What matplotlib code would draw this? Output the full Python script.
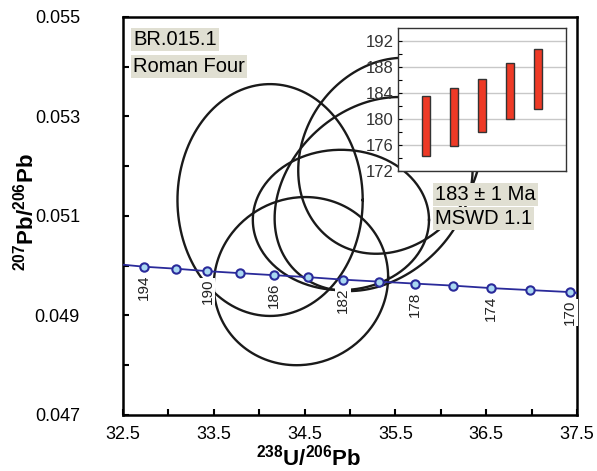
import matplotlib
matplotlib.use("Agg")
import matplotlib.pyplot as plt
import numpy as np

plt.rcParams["font.family"] = ["Liberation Sans", "DejaVu Sans"]
plt.rcParams["mathtext.fontset"] = "custom"
plt.rcParams["mathtext.rm"] = "Liberation Sans"
plt.rcParams["mathtext.bf"] = "Liberation Sans:bold"

# concordia ticks (Ma) and their Tera-Wasserburg coordinates
ages = [194, 192, 190, 188, 186, 184, 182, 180, 178, 176, 174, 172, 170]
u238_pb206 = [32.73, 33.08, 33.43, 33.79, 34.16, 34.54, 34.92, 35.32, 35.72, 36.13, 36.55, 36.98, 37.42]
pb207_pb206 = [0.04998, 0.04994, 0.04989, 0.04985, 0.04981, 0.04977, 0.04972,
               0.04968, 0.04964, 0.04960, 0.04955, 0.04951, 0.04947]
labelled_ages = [194, 190, 186, 182, 178, 174, 170]
curve_ends_x = [32.5, 37.5]
curve_ends_y = [0.05002, 0.04945]

# error ellipses: centre, half axes, correlation
ell_x = [34.12, 34.46, 34.90, 35.26, 35.44]
ell_y = [0.05132, 0.04969, 0.05092, 0.05144, 0.05221]
ell_sx = [1.02, 0.96, 0.97, 1.09, 1.01]
ell_sy = [0.00233, 0.00169, 0.00141, 0.00195, 0.00197]
ell_rho = [0.0, 0.05, 0.0, 0.25, 0.15]

# inset: age bars (Ma)
bar_pos = [1, 2, 3, 4, 5]
bar_low = [174.3, 175.8, 178.0, 180.0, 181.6]
bar_high = [183.5, 184.8, 186.2, 188.6, 190.8]

fig = plt.figure(figsize=(5.97, 4.71), dpi=100)
ax = fig.add_axes([0.206, 0.119, 0.7605, 0.845])

t = np.linspace(0, 2 * np.pi, 300)
for cx, cy, sx, sy, r in zip(ell_x, ell_y, ell_sx, ell_sy, ell_rho):
    ex = cx + sx * np.cos(t)
    ey = cy + sy * (r * np.cos(t) + np.sqrt(1 - r ** 2) * np.sin(t))
    ax.plot(ex, ey, color="#1a1a1a", linewidth=1.7, zorder=2)

line_x = [curve_ends_x[0]] + u238_pb206 + [curve_ends_x[1]]
line_y = [curve_ends_y[0]] + pb207_pb206 + [curve_ends_y[1]]
ax.plot(line_x, line_y, color="#2a2a9a", linewidth=1.3, zorder=3)
ax.plot(u238_pb206, pb207_pb206, "o", markersize=6, markerfacecolor="#a9d8f2",
        markeredgecolor="#2a2a9a", markeredgewidth=1.5, linestyle="none", zorder=4)

for a, x, y in zip(ages, u238_pb206, pb207_pb206):
    if a in labelled_ages:
        ax.annotate(str(a), (x, y), xytext=(0, -5.5), textcoords="offset points",
                    rotation=90, ha="center", va="top", fontsize=11, color="#222222",
                    bbox=dict(facecolor="white", edgecolor="none", pad=0.8), zorder=5)

ax.set_xlim(32.5, 37.5)
ax.set_ylim(0.047, 0.055)
ax.set_xticks([32.5, 33.5, 34.5, 35.5, 36.5, 37.5])
ax.set_xticks([33.0, 34.0, 35.0, 36.0, 37.0], minor=True)
ax.set_yticks([0.047, 0.049, 0.051, 0.053, 0.055])
ax.set_yticks([0.048, 0.050, 0.052, 0.054], minor=True)
ax.set_yticklabels(["0.047", "0.049", "0.051", "0.053", "0.055"])
ax.tick_params(which="both", direction="in", length=4, width=1.5, labelsize=13)
ax.tick_params(axis="y", which="both", pad=31)
ax.tick_params(axis="x", which="both", pad=8)
for s in ax.spines.values():
    s.set_linewidth(1.8)

ax.set_xlabel(r"$\mathbf{^{238}U/^{206}Pb}$", fontsize=16)
ax.xaxis.set_label_coords(0.41, -0.075)
ax.set_ylabel(r"$\mathbf{^{207}Pb/^{206}Pb}$", fontsize=16)
ax.yaxis.set_label_coords(-0.186, 0.51)

box = dict(facecolor="#e0dfd2", edgecolor="none", pad=1.5)
ax.text(0.022, 0.943, "BR.015.1", transform=ax.transAxes, fontsize=14.5, va="center",
        bbox=box, zorder=6)
ax.text(0.022, 0.875, "Roman Four", transform=ax.transAxes, fontsize=14.5, va="center",
        bbox=box, zorder=6)
ax.text(0.688, 0.555, "183 \u00b1 1 Ma", transform=ax.transAxes, fontsize=14.5, va="center",
        bbox=box, zorder=6)
ax.text(0.688, 0.494, "MSWD 1.1", transform=ax.transAxes, fontsize=14.5, va="center",
        bbox=box, zorder=6)

# inset with weighted-mean bars
ins = fig.add_axes([0.6667, 0.6369, 0.2814, 0.3036])
ins.set_facecolor("white")
ins.grid(axis="y", color="#c8c8c8", linewidth=1)
ins.set_axisbelow(True)
ins.bar(bar_pos, np.array(bar_high) - np.array(bar_low), bottom=bar_low, width=0.3,
        color="#ee3a26", edgecolor="#333333", linewidth=1, zorder=3)
ins.set_xlim(0, 6)
ins.set_ylim(172, 194)
ins.set_xticks([])
ins.set_yticks([172, 176, 180, 184, 188, 192])
ins.set_yticks([174, 178, 182, 186, 190], minor=True)
ins.tick_params(axis="y", which="both", direction="in", length=3, width=0.8,
                labelsize=12, labelcolor="#333333", pad=3)
for s in ins.spines.values():
    s.set_linewidth(1)
    s.set_color("#333333")

fig.savefig("out.png", dpi=100)
